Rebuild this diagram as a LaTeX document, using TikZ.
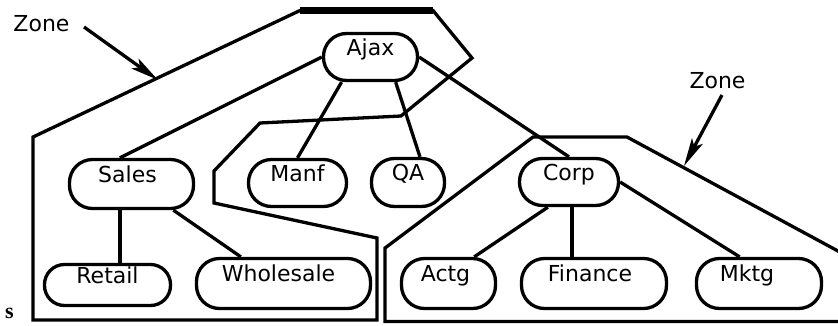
\documentclass[tikz,border=0pt]{standalone}
\usepackage{fontspec}
\setmainfont{DejaVu Sans}
\newfontfamily\serifbold{Liberation Serif}
\usetikzlibrary{arrows.meta,calc}
\begin{document}
\begin{tikzpicture}[x=1pt,y=-1pt,
  box/.style={rectangle, rounded corners=23pt, draw, line width=3.3pt,
    font=\fontsize{22}{24}\selectfont, text height=10pt, text depth=14pt,
    inner xsep=2pt, inner ysep=2pt},
  link/.style={line width=3.3pt},
  zone/.style={line width=3.3pt, line join=miter},
  zlabel/.style={font=\fontsize{22}{24}\selectfont, inner sep=0pt},
  pointer/.style={line width=3.3pt, -{Stealth[length=28pt,width=12pt,inset=6pt]}}]
\useasboundingbox (0,0) rectangle (838,325);
% zones
\begin{scope}
\clip (0,0) rectangle (838,325);
\draw[zone] (377,320) -- (33,320) -- (33,137) -- (300,10.5) -- (433,10.5)
  -- (472,58) -- (401,116) -- (260,123) -- (214,171) -- (214,203)
  -- (377,238) -- cycle;
\draw[line width=7pt] (300,10.5) -- (433,10.5);
\draw[zone] (850,257.5) -- (627,137) -- (533,137) -- (385,248)
  -- (385,321.5) -- (845,321.5);
\end{scope}
% nodes
\node[box, minimum width=94pt, minimum height=47pt] (ajax) at (370.5,57) {Ajax};
\node[box, minimum width=124pt, minimum height=49pt] (sales) at (131.5,184) {Sales\hspace*{8pt}};
\node[box, minimum width=98pt, minimum height=47pt] (manf) at (297.5,183) {Manf};
\node[box, minimum width=73pt, minimum height=48pt] (qa) at (408,182.5) {QA};
\node[box, minimum width=99pt, minimum height=47pt] (corp) at (569,182) {Corp};
\node[box, rounded corners=20pt, minimum width=126pt, minimum height=41pt] (retail) at (107.5,285) {Retail};
\node[box, minimum width=174pt, minimum height=50pt] (wholesale) at (283.5,283.5) {Wholesale\hspace*{10pt}};
\node[box, minimum width=94pt, minimum height=50pt] (actg) at (448.5,283.5) {Actg\hspace*{6pt}};
\node[box, minimum width=145pt, minimum height=50pt] (finance) at (594,283.5) {Finance\hspace*{8pt}};
\node[box, minimum width=125pt, minimum height=50pt] (mktg) at (759,283.5) {Mktg\hspace*{24pt}};
% links
\draw[link] (ajax.west) -- (sales.114);
\draw[link] (ajax.221) -- (manf.north);
\draw[link] (ajax.-45) -- (qa.65);
\draw[link] (ajax.east) -- (corp.north);
\draw[link] ([xshift=-11.5pt]sales.south) -- ([xshift=-11.5pt]sales.south |- retail.north);
\draw[link] (sales.-32) -- (wholesale.148.6);
\draw[link] (corp.230) -- (actg.46);
\draw[link] ([xshift=3pt]corp.south) -- ([xshift=3pt]corp.south |- finance.north);
\draw[link] (corp.east) -- (mktg.126);
% zone labels and pointers
\node[zlabel] (zl1) at (41.5,24) {Zone};
\node[zlabel] (zl2) at (717.5,81) {Zone};
\coordinate (p1s) at (84,27);
\coordinate (p1e) at (158,80);
\coordinate (p2s) at (722,95);
\coordinate (p2e) at (684,166);
\draw[pointer] (p1s) -- (p1e);
\draw[pointer] (p2s) -- (p2e);
% letter at lower left
\node[font=\serifbold\bfseries\fontsize{22}{22}\selectfont, inner sep=0pt, anchor=base west] (cut) at (5,318) {s};
\end{tikzpicture}
\end{document}
